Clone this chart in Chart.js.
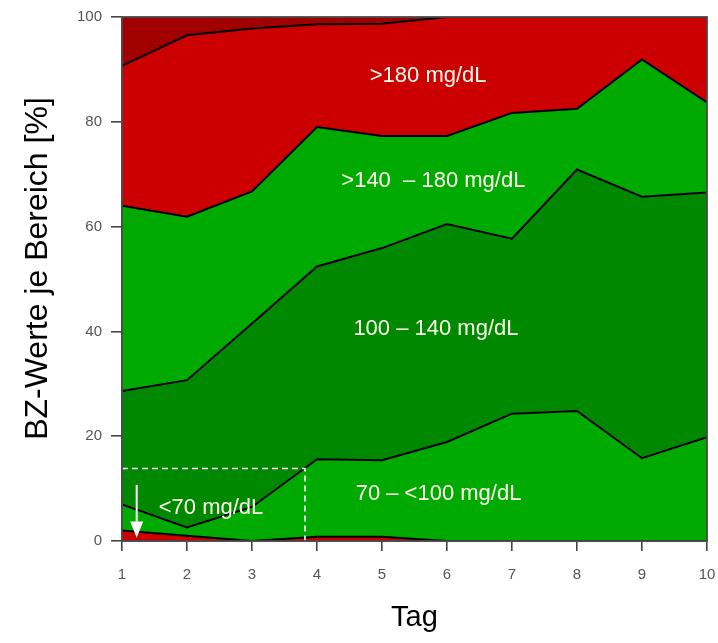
<!DOCTYPE html>
<html>
<head>
<meta charset="utf-8">
<script src="https://cdn.jsdelivr.net/npm/chart.js@4/dist/chart.umd.min.js"></script>
<style>
html,body{margin:0;padding:0;background:#fff;}
#wrap{width:718px;height:643px;}
</style>
</head>
<body>
<div id="wrap"><canvas id="c" width="718" height="643"></canvas></div>
<script>
// ---- data ----
const days = [1, 2, 3, 4, 5, 6, 7, 8, 9, 10];
const below70   = [2.0, 1.0, 0.0, 0.8, 0.8, 0.0, 0.0, 0.0, 0.0, 0.0];
const r70to100  = [5.0, 1.6, 6.5, 14.8, 14.6, 18.9, 24.3, 24.8, 15.8, 19.8];
const r100to140 = [21.6, 28.1, 35.0, 36.8, 40.5, 41.6, 33.4, 46.1, 49.9, 46.7];
const r140to180 = [35.4, 31.2, 25.2, 26.6, 21.4, 16.8, 24.0, 11.6, 26.2, 17.2];
const above180  = [26.7, 34.6, 31.1, 19.6, 21.4, 22.7, 18.3, 17.5, 8.1, 16.3];
const above250  = [9.3, 3.5, 2.2, 1.4, 1.3, 0.0, 0.0, 0.0, 0.0, 0.0];
const seriesNames = ['<70 mg/dL', '70 – <100 mg/dL', '100 – 140 mg/dL', '>140 – 180 mg/dL', '>180 mg/dL', '>250 mg/dL'];
const yTicks = [0, 20, 40, 60, 80, 100];
const xTitle = 'Tag';
const yTitle = 'BZ-Werte je Bereich [%]';

// ---- annotations (data coordinates) ----
const areaLabels = [
  {text: '>180 mg/dL',         x: 5.71, y: 88.8},
  {text: '>140  – 180 mg/dL',  x: 5.79, y: 68.8},
  {text: '100 – 140 mg/dL',    x: 5.83, y: 40.4},
  {text: '70 – <100 mg/dL',    x: 5.87, y: 9.0},
  {text: '<70 mg/dL',          x: 2.37, y: 6.4}
];
const dashCorner = {x: 3.815, y: 13.85};
const arrowSpec = {x: 1.226, yTop: 10.7, yHead: 3.7, yTip: 0.6};
const yTitleCenter = 52.0; // in axis units

const FONT = "'Liberation Sans', Arial, sans-serif";
const colors = ['#CC0000', '#00AA00', '#008800', '#00AA00', '#CC0000', '#A00000'];
const values = [below70, r70to100, r100to140, r140to180, above180, above250];

const datasets = values.map((vals, i) => ({
  label: seriesNames[i],
  data: days.map((d, k) => ({x: d, y: vals[k]})),
  backgroundColor: colors[i],
  borderColor: i === values.length - 1 ? 'rgba(0,0,0,0)' : '#000',
  borderWidth: 2,
  pointRadius: 0,
  pointHoverRadius: 0,
  tension: 0,
  fill: i === 0 ? 'origin' : '-1'
}));

const annot = {
  id: 'annot',
  afterDatasetsDraw(chart) {
    const {ctx, scales: {x, y}, chartArea: a} = chart;
    ctx.save();
    // dashed guide
    ctx.strokeStyle = '#fff';
    ctx.lineWidth = 1.6;
    ctx.setLineDash([6, 4]);
    ctx.beginPath();
    ctx.moveTo(x.getPixelForValue(1), y.getPixelForValue(dashCorner.y));
    ctx.lineTo(x.getPixelForValue(dashCorner.x), y.getPixelForValue(dashCorner.y));
    ctx.lineTo(x.getPixelForValue(dashCorner.x), y.getPixelForValue(0));
    ctx.stroke();
    ctx.setLineDash([]);
    // arrow
    const ax = x.getPixelForValue(arrowSpec.x);
    const yT = y.getPixelForValue(arrowSpec.yTop);
    const yH = y.getPixelForValue(arrowSpec.yHead);
    const yP = y.getPixelForValue(arrowSpec.yTip);
    ctx.lineWidth = 2;
    ctx.beginPath(); ctx.moveTo(ax, yT); ctx.lineTo(ax, yH); ctx.stroke();
    ctx.fillStyle = '#fff';
    ctx.beginPath(); ctx.moveTo(ax - 6.5, yH); ctx.lineTo(ax + 6.5, yH); ctx.lineTo(ax, yP); ctx.closePath(); ctx.fill();
    // labels
    ctx.fillStyle = '#FFFFEE';
    ctx.font = '22px ' + FONT;
    ctx.textAlign = 'center';
    ctx.textBaseline = 'middle';
    areaLabels.forEach(l => ctx.fillText(l.text, x.getPixelForValue(l.x), y.getPixelForValue(l.y)));
    // frame
    ctx.strokeStyle = '#4a4a4a';
    ctx.lineWidth = 1.8;
    ctx.strokeRect(a.left, a.top, a.right - a.left, a.bottom - a.top);
    // y title
    ctx.fillStyle = '#000';
    ctx.font = '32px ' + FONT;
    ctx.translate(38, y.getPixelForValue(yTitleCenter));
    ctx.rotate(-Math.PI / 2);
    ctx.fillText(yTitle, 0, 0);
    ctx.restore();
  }
};

new Chart(document.getElementById('c'), {
  type: 'line',
  data: {datasets},
  plugins: [annot],
  options: {
    responsive: false,
    animation: false,
    layout: {padding: {left: 0, top: 17, right: 11, bottom: 0}},
    plugins: {legend: {display: false}, tooltip: {enabled: false}},
    scales: {
      x: {
        type: 'linear', min: 1, max: 10,
        afterFit(s) { s.height = 102; s.paddingLeft = 0; s.paddingRight = 0; },
        ticks: {stepSize: 1, color: '#555', font: {family: FONT, size: 15}, padding: 15,
                callback: v => String(days[days.indexOf(v)])},
        grid: {display: true, drawOnChartArea: false, drawTicks: true, tickLength: 10, color: '#444', lineWidth: 1.6},
        border: {display: true, color: '#4a4a4a', width: 1.6},
        title: {display: true, text: xTitle, color: '#000', font: {family: FONT, size: 29}, padding: {top: 0, bottom: 8}}
      },
      y: {
        stacked: true, min: 0, max: 100,
        afterFit(s) { s.width = 122; s.paddingTop = 0; s.paddingBottom = 0; },
        afterBuildTicks(s) { s.ticks = yTicks.map(v => ({value: v})); },
        ticks: {color: '#555', font: {family: FONT, size: 15}, padding: 9},
        grid: {display: true, drawOnChartArea: false, drawTicks: true, tickLength: 11, color: '#444', lineWidth: 1.6},
        border: {display: true, color: '#4a4a4a', width: 1.6},
        title: {display: false}
      }
    }
  }
});
</script>
</body>
</html>
